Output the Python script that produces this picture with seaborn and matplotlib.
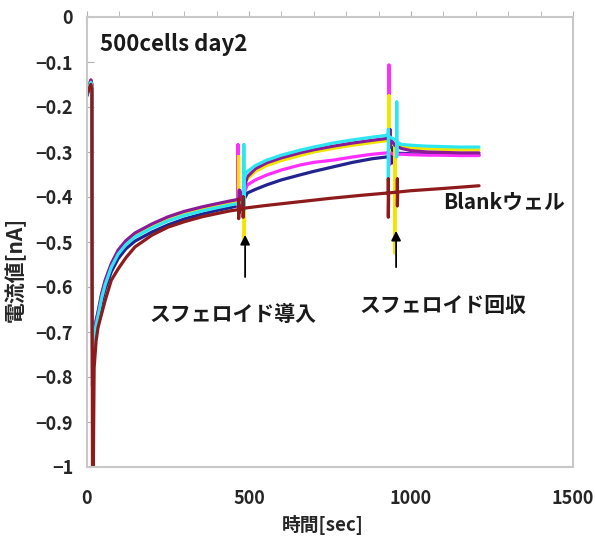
import matplotlib
matplotlib.use("Agg")
import matplotlib.pyplot as plt
import seaborn as sns
import pandas as pd

# ---------------- data ----------------
T_PRE = [0, 6, 12, 15, 17, 19, 22, 28, 34, 45, 56, 75, 96, 120, 148, 200, 250, 300, 355, 400, 440, 462]
T_MID = [495, 520, 555, 600, 657, 700, 760, 820, 880, 925]
T_END = [970, 1000, 1050, 1100, 1150, 1210]

PURPLE_PRE = [-0.17, -0.155, -0.14, -0.15, -0.82, -0.75, -0.70, -0.675, -0.655, -0.615, -0.585, -0.548,
              -0.518, -0.497, -0.48, -0.46, -0.444, -0.432, -0.422, -0.415, -0.409, -0.406]
CYAN_PRE = [-0.17, -0.155, -0.145, -0.155, -0.78, -0.76, -0.71, -0.685, -0.665, -0.625, -0.595, -0.556,
            -0.527, -0.506, -0.489, -0.469, -0.453, -0.441, -0.431, -0.424, -0.418, -0.415]
YELLOW_PRE = [-0.165, -0.15, -0.14, -0.15, -0.80, -0.76, -0.705, -0.68, -0.66, -0.62, -0.59, -0.552,
              -0.523, -0.502, -0.485, -0.465, -0.449, -0.437, -0.427, -0.42, -0.414, -0.411]
MAGENTA_PRE = [-0.16, -0.15, -0.14, -0.15, -0.80, -0.75, -0.70, -0.675, -0.657, -0.618, -0.588, -0.55,
               -0.521, -0.50, -0.483, -0.463, -0.447, -0.435, -0.425, -0.418, -0.412, -0.409]
NAVY_PRE = [-0.175, -0.16, -0.15, -0.16, -0.74, -0.76, -0.72, -0.695, -0.675, -0.635, -0.605, -0.566,
            -0.537, -0.515, -0.498, -0.478, -0.462, -0.449, -0.438, -0.43, -0.424, -0.42]

purple_t = T_PRE + [470, 470, 470, 471, 480] + T_MID + [935, 935, 935, 936, 950] + T_END
purple_v = PURPLE_PRE + [-0.404, -0.385, -0.42, -0.40, -0.39] + \
    [-0.355, -0.337, -0.324, -0.313, -0.302, -0.295, -0.287, -0.28, -0.274, -0.27] + \
    [-0.268, -0.25, -0.29, -0.27, -0.285] + [-0.292, -0.297, -0.30, -0.301, -0.302, -0.302]

cyan_t = T_PRE + [484, 484, 484, 485, 492] + T_MID[1:] + [930, 930, 930, 931, 956, 956, 956, 957] + T_END
cyan_v = CYAN_PRE + [-0.41, -0.284, -0.43, -0.36, -0.345] + \
    [-0.33, -0.318, -0.307, -0.296, -0.289, -0.28, -0.273, -0.267, -0.263] + \
    [-0.262, -0.25, -0.362, -0.265, -0.275, -0.189, -0.311, -0.278] + \
    [-0.283, -0.285, -0.287, -0.288, -0.289, -0.289]

yellow_t = T_PRE + [468, 468, 468, 469, 485, 485, 485, 486] + T_MID + \
    [932, 932, 932, 933, 950, 950, 950, 951] + T_END
yellow_v = YELLOW_PRE + [-0.41, -0.31, -0.42, -0.408, -0.39, -0.37, -0.495, -0.37] + \
    [-0.36, -0.343, -0.33, -0.319, -0.308, -0.30, -0.292, -0.285, -0.279, -0.275] + \
    [-0.275, -0.175, -0.30, -0.28, -0.285, -0.41, -0.525, -0.287] + \
    [-0.287, -0.291, -0.293, -0.294, -0.295, -0.295]

magenta_t = T_PRE + [466, 466, 466, 467, 480] + T_MID + [932, 932, 932, 933, 945] + T_END
magenta_v = MAGENTA_PRE + [-0.41, -0.284, -0.42, -0.41, -0.40] + \
    [-0.373, -0.362, -0.351, -0.34, -0.329, -0.323, -0.318, -0.311, -0.305, -0.302] + \
    [-0.30, -0.107, -0.33, -0.30, -0.305] + [-0.305, -0.306, -0.307, -0.307, -0.308, -0.308]

navy_t = T_PRE + [470, 470, 470, 471, 485] + T_MID + [940, 940, 940, 941, 955] + T_END
navy_v = NAVY_PRE + [-0.42, -0.40, -0.435, -0.42, -0.405] + \
    [-0.391, -0.383, -0.373, -0.362, -0.351, -0.343, -0.333, -0.323, -0.315, -0.311] + \
    [-0.31, -0.285, -0.325, -0.31, -0.303] + [-0.303, -0.304, -0.305, -0.306, -0.307, -0.307]

blank_t = [0, 6, 12, 15, 17, 19, 22, 28, 34, 45, 56, 75, 96, 120, 148, 200, 250, 300, 355, 400, 440,
           468, 468, 468, 469, 482, 482, 482, 483, 550, 650, 750, 850,
           930, 930, 930, 931, 958, 958, 958, 959, 1000, 1100, 1210]
blank_v = [-0.17, -0.16, -0.15, -0.16, -1.05, -1.05, -0.78, -0.72, -0.69, -0.66, -0.63, -0.585, -0.56,
           -0.535, -0.511, -0.485, -0.467, -0.455, -0.444, -0.437, -0.431,
           -0.428, -0.405, -0.448, -0.428, -0.425, -0.40, -0.445, -0.425, -0.419, -0.411, -0.403, -0.396,
           -0.391, -0.36, -0.445, -0.391, -0.389, -0.36, -0.42, -0.389, -0.386, -0.381, -0.375]

series_names = ["navy", "magenta", "yellow", "purple", "cyan", "blank"]
series_t = [navy_t, magenta_t, yellow_t, purple_t, cyan_t, blank_t]
series_v = [navy_v, magenta_v, yellow_v, purple_v, cyan_v, blank_v]
palette = {"navy": "#23238f", "magenta": "#ff2eff", "yellow": "#f2e600",
           "purple": "#8a1a96", "cyan": "#2ee6f2", "blank": "#8e1b1b"}

x_ticks = [0, 500, 1000, 1500]
y_ticks = [0, -0.1, -0.2, -0.3, -0.4, -0.5, -0.6, -0.7, -0.8, -0.9, -1]

frames = []
for name, tt, vv in zip(series_names, series_t, series_v):
    assert len(tt) == len(vv), name
    frames.append(pd.DataFrame({"t": tt, "v": vv, "series": name}))
df = pd.concat(frames, ignore_index=True)

# ---------------- plotting ----------------
sns.set_style("white")
plt.rcParams["font.family"] = ["Noto Sans CJK JP", "DejaVu Sans"]
plt.rcParams["axes.unicode_minus"] = True

fig = plt.figure(figsize=(5.95, 5.42), dpi=100)
ax = fig.add_axes([87 / 595, 1 - 467 / 542, (573 - 87) / 595, (467 - 17) / 542])

sns.lineplot(data=df, x="t", y="v", hue="series", hue_order=series_names, palette=palette,
             estimator=None, sort=False, linewidth=2.3, legend=False, ax=ax)

ax.set_xlim(0, 1500)
ax.set_ylim(-1, 0)
ax.set_xticks(x_ticks)
ax.set_xticks(list(range(0, 1501, 100)), minor=True)
ax.set_yticks(y_ticks)
ax.set_yticklabels(["0" if v == 0 else ("−1" if v == -1 else f"−{abs(v):.1f}") for v in y_ticks])
ax.set_xticklabels([str(v) for v in x_ticks])

for s in ax.spines.values():
    s.set_color("#c8c8c8")
    s.set_linewidth(1.5)

ax.tick_params(axis="x", which="both", bottom=False, top=True, labelbottom=True, labeltop=False,
               direction="out", length=4, color="#b0b0b0", pad=12, labelsize=13)
ax.tick_params(axis="y", which="major", left=True, right=False, direction="in", length=5,
               color="#b0b0b0", pad=10, labelsize=13)
for lab in ax.get_xticklabels() + ax.get_yticklabels():
    lab.set_fontweight("bold")

ax.set_xlabel("時間[sec]", fontsize=13.5, fontweight="bold")
ax.xaxis.set_label_coords(0.485, -0.106)
ax.set_ylabel("電流値[nA]", fontsize=15, fontweight="bold")
ax.yaxis.set_label_coords(-0.125, 0.44)

ax.text(0.027, 0.938, "500cells day2", transform=ax.transAxes, fontsize=16,
        fontweight="bold", ha="left", va="center", color="#1a1a1a")
ax.text(450, -0.662, "スフェロイド導入", fontsize=15, fontweight="bold", ha="center", va="center", color="#1a1a1a")
ax.text(1099, -0.64, "スフェロイド回収", fontsize=15, fontweight="bold", ha="center", va="center", color="#1a1a1a")
ax.text(1287, -0.411, "Blankウェル", fontsize=15, fontweight="bold", ha="center", va="center", color="#1a1a1a")

arrow = dict(arrowstyle="-|>", color="black", lw=1.3, mutation_scale=14)
ax.annotate("", xy=(488, -0.478), xytext=(488, -0.584), arrowprops=arrow)
ax.annotate("", xy=(954, -0.469), xytext=(954, -0.562), arrowprops=arrow)

fig.savefig("out.png", dpi=100)
